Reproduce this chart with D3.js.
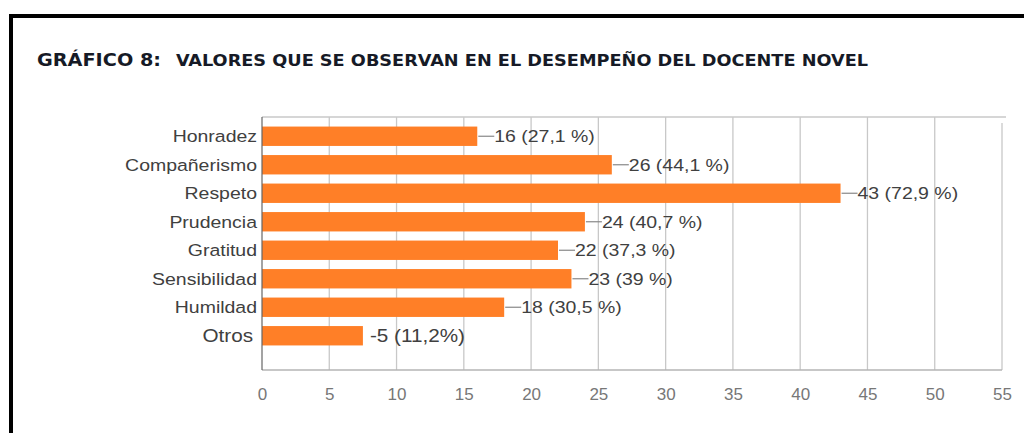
<!DOCTYPE html>
<html>
<head>
<meta charset="utf-8">
<script src="https://cdn.jsdelivr.net/npm/d3@7"></script>
<style>
  body { margin: 0; background: #fff; }
  svg { display: block; }
</style>
</head>
<body>
<svg id="chart" width="1024" height="433"></svg>
<script>
// datos del gráfico
const categories = ["Honradez", "Compañerismo", "Respeto", "Prudencia", "Gratitud", "Sensibilidad", "Humildad", "Otros"];
const values = [16, 26, 43, 24, 22, 23, 18, 7.5];
const labels = ["16 (27,1 %)", "26 (44,1 %)", "43 (72,9 %)", "24 (40,7 %)", "22 (37,3 %)", "23 (39 %)", "18 (30,5 %)", "-5 (11,2%)"];
const ticks = [0, 5, 10, 15, 20, 25, 30, 35, 40, 45, 50, 55];

const svg = d3.select("#chart");
const sans = "'Liberation Sans', Arial, sans-serif";

// marco del documento
svg.append("line").attr("x1", 9).attr("x2", 1024).attr("y1", 16).attr("y2", 16)
    .attr("stroke", "#000").attr("stroke-width", 4);
svg.append("line").attr("x1", 11).attr("x2", 11).attr("y1", 14).attr("y2", 433)
    .attr("stroke", "#000").attr("stroke-width", 4);

// título
const title = svg.append("text").attr("y", 66)
    .attr("font-family", "'DejaVu Sans Condensed', 'DejaVu Sans', sans-serif")
    .attr("font-weight", "bold").attr("fill", "#161a26");
title.append("tspan").attr("x", 37).attr("font-size", 18.5)
    .attr("textLength", 124).attr("lengthAdjust", "spacingAndGlyphs")
    .text("GRÁFICO  8:");
title.append("tspan").attr("x", 176).attr("font-size", 16.5)
    .attr("textLength", 692).attr("lengthAdjust", "spacingAndGlyphs")
    .text("VALORES QUE SE OBSERVAN EN EL DESEMPEÑO DEL DOCENTE NOVEL");

const x = d3.scaleLinear().domain([0, 55]).range([262, 1002]);
const y = d3.scaleBand().domain(categories).range([122, 350]).paddingInner(0.32).paddingOuter(0.16);
const yc = c => y(c) + y.bandwidth() / 2;

const plotTop = 117, plotBottom = 370;

// rejilla
svg.append("g").selectAll("line").data(ticks.slice(1)).join("line")
    .attr("x1", d => x(d)).attr("x2", d => x(d))
    .attr("y1", d => d === 55 ? plotTop + 6 : plotTop).attr("y2", plotBottom)
    .attr("stroke", "#c8c8c8").attr("stroke-width", 1.3);
svg.append("line").attr("x1", x(0)).attr("x2", x(55) + 4).attr("y1", plotTop).attr("y2", plotTop)
    .attr("stroke", "#c8c8c8").attr("stroke-width", 1.3);
svg.append("line").attr("x1", x(0)).attr("x2", x(55)).attr("y1", plotBottom).attr("y2", plotBottom)
    .attr("stroke", "#b4b4b4").attr("stroke-width", 1.5);

// eje x
const xAxis = svg.append("g").attr("transform", `translate(0,${plotBottom})`)
    .call(d3.axisBottom(x).tickValues(ticks).tickSize(0).tickPadding(18));
xAxis.select(".domain").remove();
xAxis.selectAll("text").attr("font-family", sans)
    .attr("font-size", 17).attr("fill", "#777");

// barras
svg.append("g").selectAll("rect").data(values).join("rect")
    .attr("x", x(0))
    .attr("y", (d, i) => y(categories[i]))
    .attr("width", d => x(d) - x(0))
    .attr("height", y.bandwidth())
    .attr("fill", "#ff7f27");

// eje y
svg.append("line").attr("x1", x(0)).attr("x2", x(0)).attr("y1", plotTop).attr("y2", plotBottom)
    .attr("stroke", "#666").attr("stroke-width", 1.2);

svg.append("g").selectAll("text").data(categories).join("text")
    .attr("transform", d => d === "Otros"
        ? `translate(253,${yc(d)}) scale(1.15,1)`
        : `translate(257,${yc(d)}) scale(1.18,1)`)
    .attr("dy", "0.36em")
    .attr("text-anchor", "end")
    .attr("font-family", sans)
    .attr("font-size", d => d === "Otros" ? 18 : 16.5)
    .attr("fill", "#404040")
    .text(d => d);

// etiquetas de valores
const lab = svg.append("g").selectAll("g").data(values).join("g");
lab.filter((d, i) => i < 7).append("line")
    .attr("x1", d => x(d) + 1).attr("x2", d => x(d) + 17)
    .attr("y1", (d, i) => yc(categories[i]))
    .attr("y2", (d, i) => yc(categories[i]))
    .attr("stroke", "#888").attr("stroke-width", 1.2);
lab.append("text")
    .attr("transform", (d, i) => i < 7
        ? `translate(${x(d) + 17},${yc(categories[i])}) scale(1.18,1)`
        : `translate(${x(d) + 7},${yc(categories[i])}) scale(1.15,1)`)
    .attr("dy", "0.36em")
    .attr("font-family", sans)
    .attr("font-size", (d, i) => i < 7 ? 16.5 : 18)
    .attr("fill", "#404040")
    .text((d, i) => labels[i]);
</script>
</body>
</html>
